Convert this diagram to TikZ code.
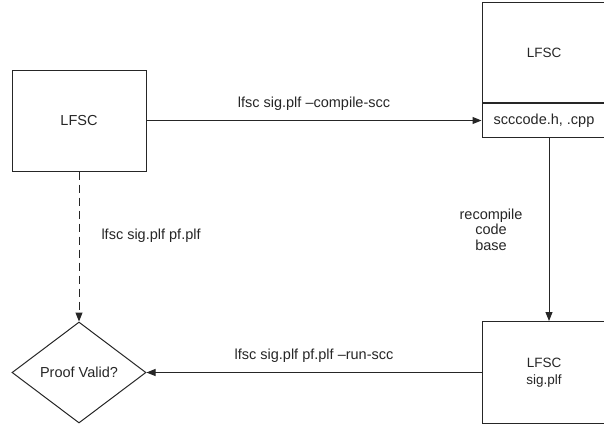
\documentclass[tikz,border=0pt]{standalone}
\usepackage{fontspec}
\setmainfont{Liberation Sans}
\usetikzlibrary{arrows.meta, positioning, shapes.geometric}

\begin{document}
\begin{tikzpicture}[
            x = 1pt, y = -1pt, % pixel units, y downwards
            > = {Triangle[length=9pt, width=7pt]}, % arrow head style
            node distance = 335pt, % distance between nodes
            line width = 1pt, % line style
            draw = black!85
        ]

        \tikzstyle{every node}=[
            text = black!85,
            font = \fontsize{14.5}{15.5}\selectfont
        ]
        \tikzstyle{block}=[
            draw = black!85,
            rectangle,
            align = center,
            inner sep = 0pt,
            minimum width = 134pt,
            minimum height = 101pt
        ]
        \tikzstyle{cutblock}=[block, minimum width = 124pt]
        \tikzstyle{decision}=[
            draw = black!85,
            diamond,
            aspect = 1.33,
            inner sep = 0pt,
            minimum width = 134pt,
            minimum height = 101pt
        ]
        \tikzstyle{cmd}=[inner sep = 0pt, align = center]

	\useasboundingbox (0,0) rectangle (604,424);
	\clip (0,0) rectangle (604,424);

	\node[block] (lfsc) at (79,120.5) {LFSC};
	\node[cutblock, minimum height = 34pt] (code) [right=of lfsc] {scccode.h, .cpp};
	\node[cutblock, minimum height = 100pt, font = \fontsize{13.5}{15}\selectfont] (head) [above=0pt of code] {LFSC};
	\node[cutblock, minimum height = 102pt, font = \fontsize{13.5}{17}\selectfont] (sig) [below=183pt of code] {LFSC\\sig.plf};
	\node[decision] (valid) [left=of sig] {Proof Valid?};

	\draw[->] (lfsc) -- (code) node[cmd, midway, above=9.5pt] {lfsc sig.plf –compile-scc};
	\draw[->] ([xshift=5pt]code.south) -- ([xshift=5pt]sig.north) node[cmd, midway, left=26pt] {recompile\\code\\base};
	\draw[->] (sig) -- (valid) node[cmd, midway, above=10pt] {lfsc sig.plf pf.plf –run-scc};
	\draw[->, dash pattern = on 8pt off 5pt] (lfsc) -- (valid) node[cmd, pos=0.43, right=22pt] {lfsc sig.plf pf.plf};

    \end{tikzpicture}
\end{document}
